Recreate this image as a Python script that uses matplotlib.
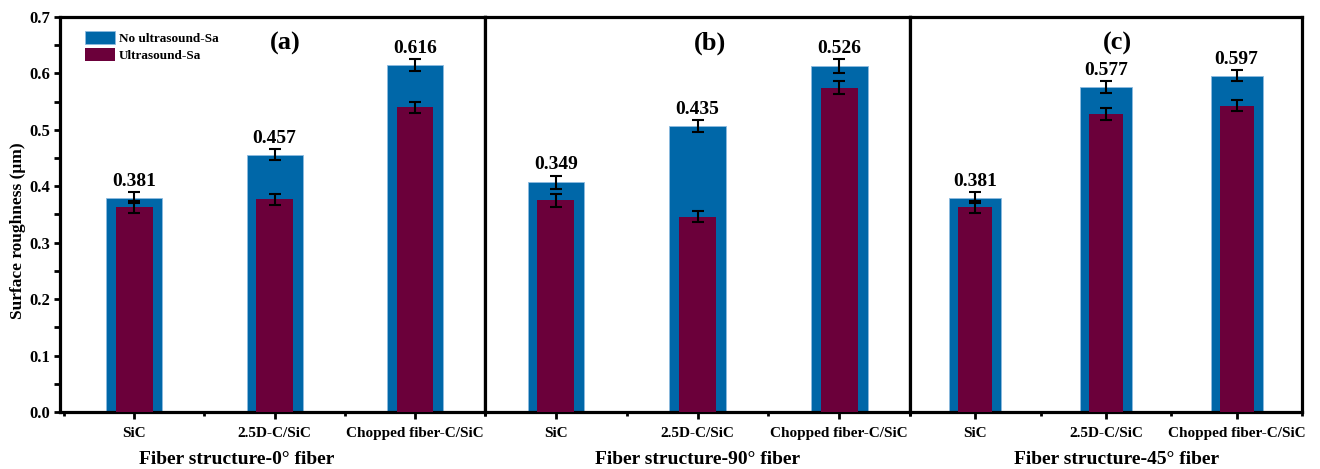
import matplotlib
matplotlib.use("Agg")
import matplotlib.pyplot as plt
import numpy as np
from matplotlib.ticker import MultipleLocator

plt.rcParams['font.family'] = ['Liberation Serif', 'DejaVu Serif']
plt.rcParams['font.weight'] = 'bold'

categories = ["SiC", "2.5D-C/SiC", "Chopped fiber-C/SiC"]
panel_tags = ["(a)", "(b)", "(c)"]
xlabels = ["Fiber structure-0\u00b0 fiber", "Fiber structure-90\u00b0 fiber", "Fiber structure-45\u00b0 fiber"]

no_us = [[0.380, 0.456, 0.615],
         [0.407, 0.507, 0.613],
         [0.380, 0.576, 0.596]]
no_us_err = [[0.010, 0.010, 0.010],
             [0.012, 0.011, 0.012],
             [0.010, 0.010, 0.010]]
us = [[0.363, 0.377, 0.540],
      [0.375, 0.346, 0.575],
      [0.363, 0.528, 0.543]]
us_err = [[0.011, 0.010, 0.010],
          [0.012, 0.010, 0.012],
          [0.011, 0.010, 0.010]]
value_labels = [["0.381", "0.457", "0.616"],
                ["0.349", "0.435", "0.526"],
                ["0.381", "0.577", "0.597"]]

blue = "#0067A8"
maroon = "#6B003A"

W, H = 1320, 469
fig = plt.figure(figsize=(W/100, H/100), dpi=100)

boxes = [(60, 485), (485, 910), (910, 1302)]
xlims = [(-0.53, 2.5), (-0.5, 2.5), (-0.5, 2.5)]
xlabel_x = [0.416, 0.5, 0.526]
top_px, bot_px = 17, 412

axes = []
for i, (x0, x1) in enumerate(boxes):
    ax = fig.add_axes([x0/W, (H-bot_px)/H, (x1-x0)/W, (bot_px-top_px)/H])
    axes.append(ax)
    x = np.arange(len(categories))
    ax.bar(x, no_us[i], width=0.4, color=blue, edgecolor="#8DBBE0", linewidth=0.6,
           label="No ultrasound-Sa", zorder=2)
    ax.bar(x, us[i], width=0.26, color=maroon, label="Ultrasound-Sa", zorder=3)
    ax.errorbar(x, no_us[i], yerr=no_us_err[i], fmt='none', ecolor='black',
                elinewidth=1.5, capsize=4, capthick=1.5, zorder=4)
    ax.errorbar(x, us[i], yerr=us_err[i], fmt='none', ecolor='black',
                elinewidth=1.5, capsize=4, capthick=1.5, zorder=4)
    for xi, v, e, lab in zip(x, no_us[i], no_us_err[i], value_labels[i]):
        ax.annotate(lab, (xi, v + e), xytext=(0, 1.5), textcoords='offset points',
                    ha='center', va='bottom', fontsize=14, fontweight='bold')
    ax.set_xlim(*xlims[i])
    ax.set_ylim(0, 0.7)
    ax.set_xticks(x)
    ax.set_xticklabels(categories, fontsize=11, fontweight='bold')
    ax.xaxis.set_minor_locator(MultipleLocator(1.0, offset=0.5))
    ax.yaxis.set_major_locator(MultipleLocator(0.1))
    ax.yaxis.set_minor_locator(MultipleLocator(0.05))
    ax.tick_params(axis='both', which='major', direction='out', length=5, width=2, pad=6)
    ax.tick_params(axis='both', which='minor', direction='out', length=3, width=2)
    ax.tick_params(axis='y', which='both', length=4)
    for s in ax.spines.values():
        s.set_linewidth(2.3)
    ax.set_xlabel(xlabels[i], fontsize=14, fontweight='bold', labelpad=5)
    ax.xaxis.set_label_coords(xlabel_x[i], -0.098)
    ax.xaxis.label.set_va('top')
    ax.text(0.53, 0.934, panel_tags[i], transform=ax.transAxes, ha='center', va='center',
            fontsize=19, fontweight='bold')
    if i == 0:
        ax.set_yticklabels([f"{v:.1f}" for v in ax.get_yticks()], fontsize=12, fontweight='bold')
        ax.tick_params(axis='y', pad=3)
        ax.set_ylabel("Surface roughness (\u03bcm)", fontsize=12.5, fontweight='bold')
        ax.yaxis.set_label_coords(-0.08, 0.46)
        leg = ax.legend(loc='upper left', bbox_to_anchor=(0.058, 0.965), frameon=False,
                        prop={'size': 9.5, 'weight': 'bold'}, handlelength=2.3, handleheight=1.15,
                        labelspacing=0.22, handletextpad=0.3, borderpad=0, borderaxespad=0)
    else:
        ax.tick_params(axis='y', which='both', left=False, labelleft=False)

fig.savefig("out.png", dpi=100)
